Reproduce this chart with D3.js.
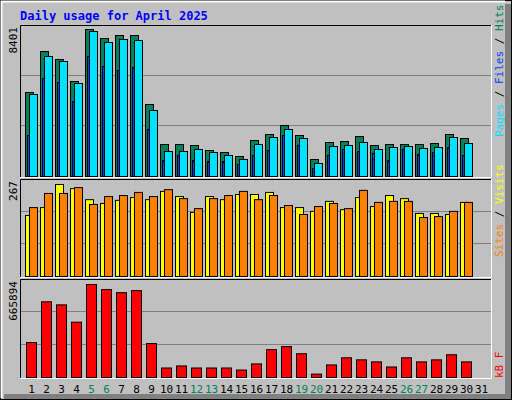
<!DOCTYPE html><html><head><meta charset="utf-8"><script src="https://cdn.jsdelivr.net/npm/d3@7"></script>
<style>body{margin:0;background:#fff}</style></head><body><svg id="c" width="512" height="400"></svg><script>
const days = d3.range(1, 32);
const weekends = [5,6,12,13,19,20,26,27];
const hits  = [4800,7144,6687,5430,8401,7887,8058,8058,4115,1829,1829,1772,1486,1372,1143,2057,2400,2915,2343,972,1943,2000,2286,1772,1829,1829,1829,1886,2400,2172,0];
const pages = [4686,6858,6572,5315,8287,7658,7830,7773,3772,1429,1429,1543,1372,1200,972,1829,2229,2686,2172,743,1715,1772,1943,1543,1657,1715,1600,1657,2229,1886,0];
const files = [2343,5601,5372,4286,6858,6287,6058,6229,2686,914,1200,914,857,857,686,1200,1486,2343,1772,457,1200,1543,1429,1315,914,1543,1257,1372,1657,1200,0];
const visits = [177,200,267,255,223,212,221,229,223,247,232,186,232,223,238,238,244,200,200,189,218,194,229,203,235,226,183,183,180,215,0];
const sites  = [200,241,241,258,209,232,235,244,232,252,226,197,226,235,247,223,235,206,180,203,212,197,250,215,218,218,171,174,189,215,0];
const kbytes = [250321,541957,520084,396139,665894,629448,607575,622157,243030,68048,82630,68048,68048,68048,53467,97212,199285,221157,170121,24303,89921,140957,126376,111794,75339,140957,111794,126376,162830,111794,0];
const maxLabels = ["8401","267","665894"];

const svg = d3.select("#c");
const F = "DejaVu Sans Mono, monospace";
svg.append("rect").attr("width",512).attr("height",400).attr("fill","#C0C0C0");
svg.append("rect").attr("x",0.5).attr("y",0.5).attr("width",511).attr("height",399).attr("fill","none").attr("stroke","#000");
svg.append("path").attr("d","M1.5,398V1.5H505").attr("fill","none").attr("stroke","#fff").attr("stroke-width",2);
svg.append("rect").attr("x",505).attr("y",4).attr("width",6).attr("height",395).attr("fill","#808080");
svg.append("rect").attr("x",4).attr("y",394).attr("width",507).attr("height",5).attr("fill","#808080");
svg.append("text").attr("x",20).attr("y",20).attr("fill","#0000FF").attr("font-family",F).attr("font-weight","bold").attr("font-size",12).text("Daily usage for April 2025");

const x = d3.scaleBand().domain(days).range([22,487]).paddingInner(0);
const panels = [{t:25,b:177,top:29,max:8401},{t:179,b:277,top:184,max:267},{t:279,b:378,top:284,max:665894}];
panels.forEach((p,i)=>{
  const h=p.b-p.t;
  svg.append("path").attr("d",`M20.5,${p.b}V${p.t+.5}H491.5`).attr("fill","none").attr("stroke","#000");
  svg.append("path").attr("d",`M491.5,${p.t}V${p.b+.5}H20`).attr("fill","none").attr("stroke","#fff");
  [1,2].forEach(k=>svg.append("line").attr("x1",21).attr("x2",491).attr("y1",p.b-1-Math.round(h*k/3)+.5).attr("y2",p.b-1-Math.round(h*k/3)+.5).attr("stroke","#808080"));
  svg.append("text").attr("transform",`translate(17,${p.t+2}) rotate(-90)`).attr("text-anchor","end").attr("font-family",F).attr("font-size",11).text(maxLabels[i]);
  p.y=d3.scaleLinear().domain([0,p.max]).range([p.b-1,p.top]);
});
function bars(data,p,dx,w,color){
  svg.append("g").selectAll("rect").data(data.map((v,i)=>({v,d:days[i]})).filter(o=>o.v>0)).join("rect")
    .attr("x",o=>x(o.d)+dx+.5).attr("y",o=>p.y(o.v)+.5).attr("width",w).attr("height",o=>p.y(0)-p.y(o.v))
    .attr("fill",color).attr("stroke","#000");
}
bars(hits,panels[0],3,8,"#00805C");
bars(pages,panels[0],7,8,"#00E0FF");
bars(files,panels[0],5,2,"#0040FF");
bars(visits,panels[1],3,8,"#FFFF00");
bars(sites,panels[1],7,8,"#FF8000");
bars(kbytes,panels[2],4,10,"#FF0000");

svg.append("g").selectAll("text").data(days).join("text").attr("x",d=>x(d)+x.bandwidth()/2+2).attr("y",393)
  .attr("text-anchor","middle").attr("font-family",F).attr("font-size",11)
  .attr("fill",d=>weekends.includes(d)?"#00805C":"#000").text(d=>d);

function legend(y,parts){
  const t=svg.append("text").attr("transform",`translate(503,${y}) rotate(-90)`).attr("font-family",F).attr("font-size",11);
  parts.forEach(([s,c])=>t.append("tspan").attr("fill",c).text(s));
}
legend(137,[["Pages","#00E0FF"],[" / ","#000"],["Files","#0040FF"],[" / ","#000"],["Hits","#00805C"]]);
legend(257,[["Sites","#FF8000"],[" / ","#000"],["Visits","#FFFF00"]]);
legend(378,[["kB F","#FF0000"]]);
</script></body></html>
